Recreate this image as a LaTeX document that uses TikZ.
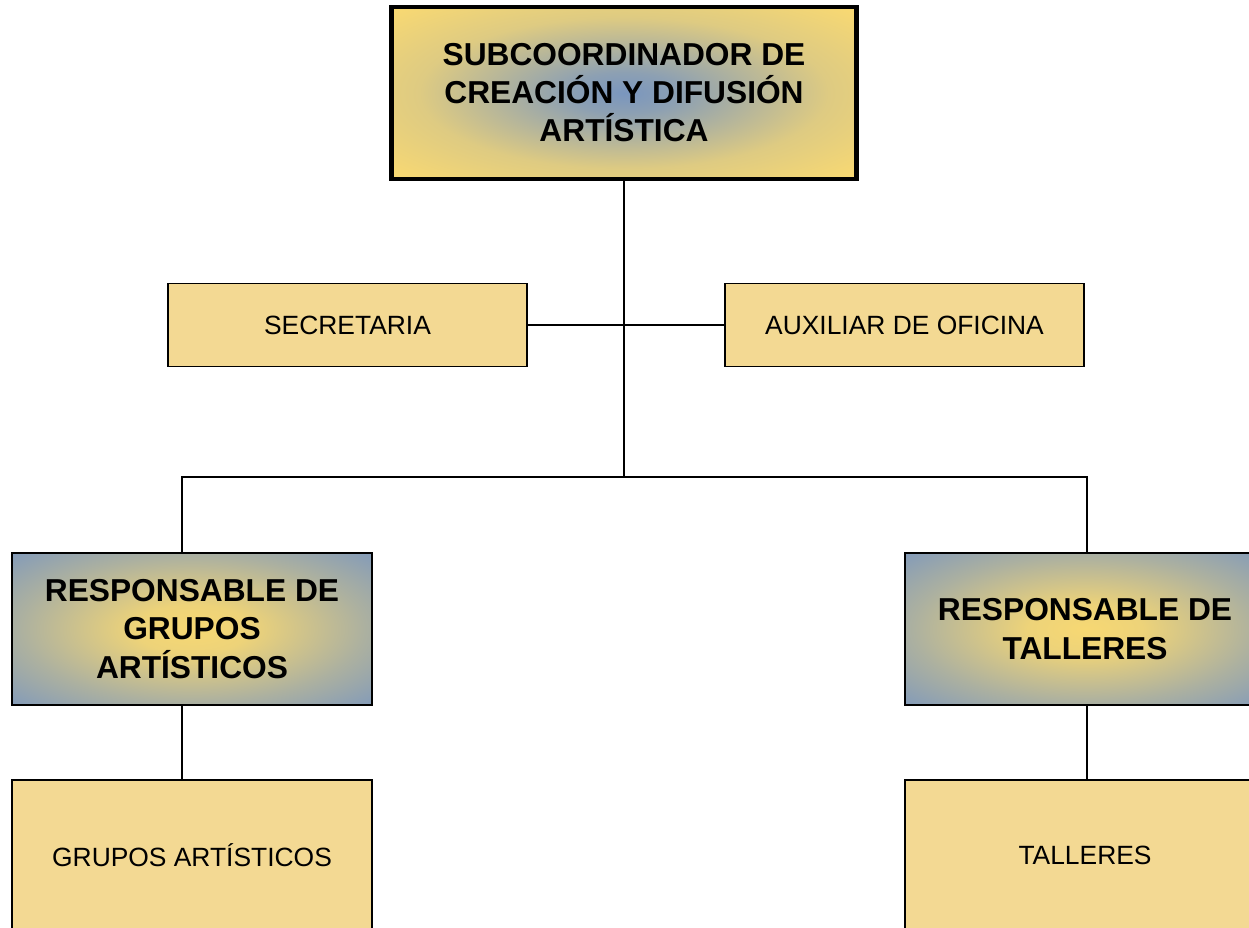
\documentclass[tikz,border=0pt]{standalone}
\usepackage{fontspec}
\setmainfont{Liberation Sans}
\definecolor{plainfill}{RGB}{243,217,147}
\definecolor{gyel}{RGB}{247,216,115}
\definecolor{gblue}{RGB}{122,150,190}
\pgfdeclareradialshading{topshade}{\pgfpoint{0bp}{0bp}}{color(0bp)=(gblue); color(6bp)=(gblue!85!gyel); color(22bp)=(gyel!80!gblue); color(34bp)=(gyel); color(50bp)=(gyel)}
\pgfdeclareradialshading{respshade}{\pgfpoint{0bp}{0bp}}{color(0bp)=(gyel); color(8bp)=(gyel!92!gblue); color(24bp)=(gyel!40!gblue); color(38bp)=(gblue); color(50bp)=(gblue)}
\begin{document}
\begin{tikzpicture}[x=1pt,y=-1pt,
  box/.style={draw=black,line width=1.8pt,inner sep=0pt,align=center},
  plainbox/.style={box,fill=plainfill,font=\fontsize{26.4}{31}\selectfont},
  headbox/.style={box,shading=respshade,font=\fontsize{31.7}{38.2}\selectfont\bfseries},
  topbox/.style={box,line width=4.5pt,shading=topshade,font=\fontsize{31.7}{38}\selectfont\bfseries},
  conn/.style={draw=black,line width=1.8pt}]
\clip (0,0) rectangle (1249,927);
\fill[white] (0,0) rectangle (1249,927);
\node[topbox,minimum width=465pt,minimum height=172pt] (top) at (624,93) {SUBCOORDINADOR DE\\CREACIÓN Y DIFUSIÓN\\ARTÍSTICA};
\node[plainbox,minimum width=359pt,minimum height=83pt] (sec) at (347.5,325) {SECRETARIA};
\node[plainbox,minimum width=359pt,minimum height=83pt] (aux) at (904.5,325) {AUXILIAR DE OFICINA};
\node[headbox,minimum width=360pt,minimum height=152pt] (rg) at (192,629) {RESPONSABLE DE\\GRUPOS\\ARTÍSTICOS};
\node[headbox,minimum width=360pt,minimum height=152pt] (rt) at (1085,629) {RESPONSABLE DE\\TALLERES};
\node[plainbox,minimum width=360pt,minimum height=150pt] (gr) at (192,855) {GRUPOS ARTÍSTICOS};
\node[plainbox,minimum width=360pt,minimum height=150pt] (ta) at (1085,855) {TALLERES};
\coordinate (j) at (624,477);
\coordinate (jl) at (182,477);
\coordinate (jr) at (1087,477);
\draw[conn] (top.south) -- (j);
\draw[conn] (sec.east) -- (aux.west);
\draw[conn] (j) -- (jl) -- (jl |- rg.north);
\draw[conn] (j) -- (jr) -- (jr |- rt.north);
\draw[conn] (jl |- rg.south) -- (jl |- gr.north);
\draw[conn] (jr |- rt.south) -- (jr |- ta.north);
\end{tikzpicture}
\end{document}
